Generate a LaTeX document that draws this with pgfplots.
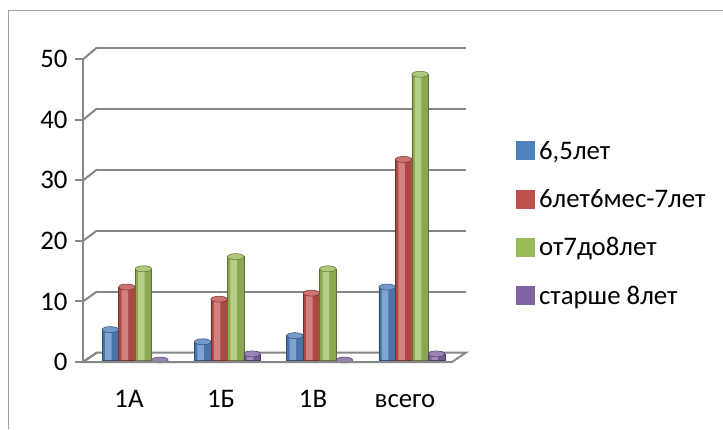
\documentclass[border=0pt]{standalone}
\usepackage{fontspec}
\setmainfont{Carlito}
\usepackage{pgfplots}
\usepackage{pgfplotstable}
\pgfplotsset{compat=1.18}
\usetikzlibrary{shapes.geometric}
\definecolor{c1}{HTML}{4F81BD}
\definecolor{c2}{HTML}{C0504D}
\definecolor{c3}{HTML}{9BBB59}
\definecolor{c4}{HTML}{8064A2}
\definecolor{gridc}{HTML}{878787}
\newcommand{\bigfont}{\fontsize{26.8}{31}\selectfont}
\pgfplotstableread{
x a  b  c  d
0 5  12 15 0
1 3  10 17 1
2 4  11 15 0
3 12 33 47 1
}\data
\pgfplotsset{
  base/.style={fill=#1!90!black, draw=#1!60!black, line width=0.5pt, bar width=16.5pt,
    legend image code/.code={\fill[#1, draw=none] (0pt,-9.5pt) rectangle (19pt,9.5pt); \path[draw=none, fill=none] (0pt,0pt) -- (21pt,0pt);}},
  hl/.style={fill=#1!72!white, draw=none, bar width=6.5pt, forget plot,
    nodes near coords={}, every node near coord/.append style={ellipse, fill=#1!80!white, draw=#1!60!black, line width=0.5pt, minimum width=16.5pt, minimum height=6pt, inner sep=0pt, anchor=center, xshift=2pt}},
}
\begin{document}
\begin{tikzpicture}[x=1pt,y=1pt]
\useasboundingbox (0,0) rectangle (723,429);
\fill[white] (0,0) rectangle (723,429);
\draw[gridc!80, line width=1pt] (8.5,0) -- (8.5,418) -- (723,418);
% back wall
\begin{axis}[at={(97pt,76.5pt)}, anchor=south west, scale only axis, width=369pt, height=305pt,
  xmin=0, xmax=1, ymin=0, ymax=50, xtick=\empty, ytick={0,10,...,50}, yticklabels={},
  major tick length=0pt, ymajorgrids, grid style={gridc, line width=2pt}, axis line style={draw=none}]
\end{axis}
\draw[gridc, line width=2pt, fill=white] (83,67) -- (452,67) -- (466,76.5) -- (97,76.5) -- cycle;
\foreach \k in {0,...,5} \draw[gridc, line width=2pt] (83,67+60.54*\k) -- (97,76.5+61*\k);
% bars
\begin{axis}[at={(89pt,69pt)}, anchor=south west, scale only axis, width=369pt, height=304pt,
  xmin=-0.5, xmax=3.5, ymin=0, ymax=50, axis lines=none, xtick=\empty, ytick=\empty, clip=false,
  ybar=0pt,
  legend style={at={(1.157,0.727)}, anchor=north west, draw=none, fill=none, inner sep=0pt,
    font=\bigfont, row sep=24.5pt, legend cell align=left},
  ]
\addplot[base=c1, bar shift=-24.75pt] table[x=x,y=a]{\data};
\addplot[hl=c1, bar shift=-26.75pt] table[x=x,y=a]{\data};
\addplot[base=c2, bar shift=-8.25pt] table[x=x,y=b]{\data};
\addplot[hl=c2, bar shift=-10.25pt] table[x=x,y=b]{\data};
\addplot[base=c3, bar shift=8.25pt] table[x=x,y=c]{\data};
\addplot[hl=c3, bar shift=6.25pt] table[x=x,y=c]{\data};
\addplot[base=c4, bar shift=24.75pt] table[x=x,y=d]{\data};
\addplot[hl=c4, bar shift=22.75pt] table[x=x,y=d]{\data};
\legend{{6,5лет}, {6лет6мес-7лет}, {от7до8лет}, {старше 8лет}}
\end{axis}
% front axis
\begin{axis}[at={(83pt,67pt)}, anchor=south west, scale only axis, width=368pt, height=302.7pt,
  xmin=-0.5, xmax=3.5, ymin=0, ymax=50,
  axis x line=bottom, axis y line=left, axis line style={-, gridc, line width=2pt},
  tick align=outside, tick style={gridc, line width=2pt},
  ytick={0,10,...,50}, major tick length=8pt,
  xtick={0,1,2,3}, xticklabels={1А,1Б,1В,всего}, x tick style={draw=none},
  minor xtick={-0.5,0.5,1.5,2.5,3.5}, minor x tick style={gridc, line width=2pt}, minor tick length=10pt,
  tick label style={font=\bigfont, text=black}, /pgf/number format/assume math mode=true,
  xticklabel style={anchor=base, yshift=-37pt}, yticklabel style={xshift=-4pt},
  ]
\end{axis}
\end{tikzpicture}
\end{document}
